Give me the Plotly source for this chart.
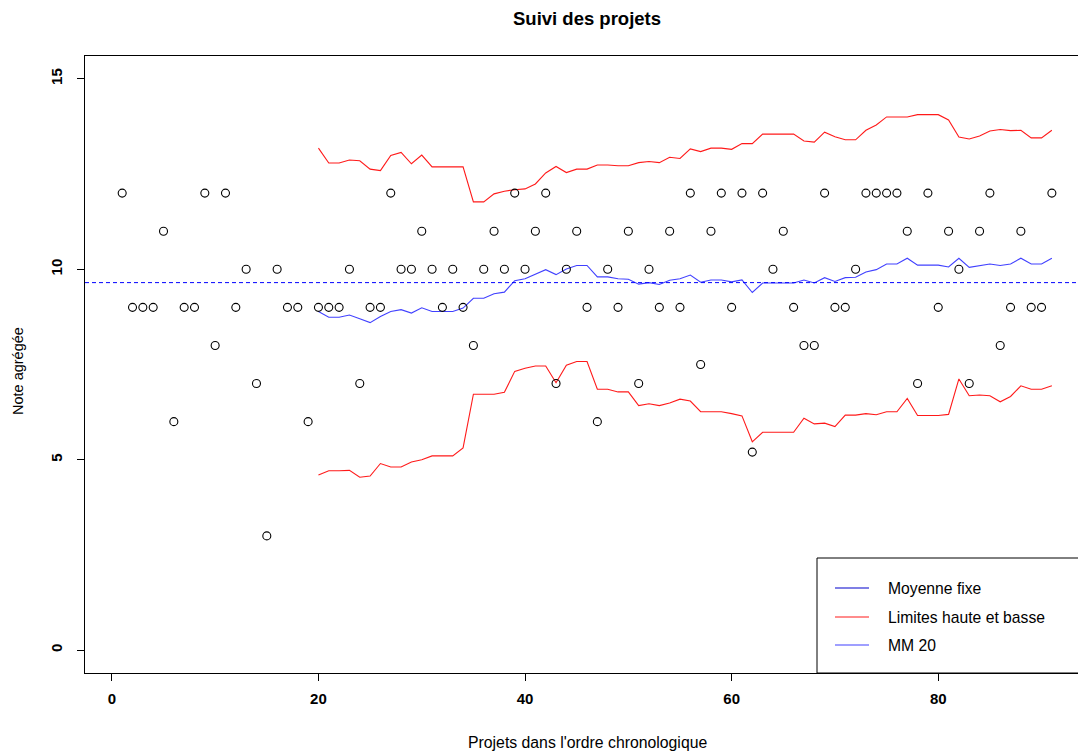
import plotly.graph_objects as go

# ---------------- data ----------------
projets = list(range(1, 92))
notes = [12, 9, 9, 9, 11, 6, 9, 9, 12, 8,
         12, 9, 10, 7, 3, 10, 9, 9, 6, 9,
         9, 9, 10, 7, 9, 9, 12, 10, 10, 11,
         10, 9, 10, 9, 8, 10, 11, 10, 12, 10,
         11, 12, 7, 10, 11, 9, 6, 10, 9, 11,
         7, 10, 9, 11, 9, 12, 7.5, 11, 12, 9,
         12, 5.2, 12, 10, 11, 9, 8, 8, 12, 9,
         9, 10, 12, 12, 12, 12, 11, 7, 12, 9,
         11, 10, 7, 11, 12, 8, 9, 11, 9, 9, 12]

x_mm = list(range(20, 92))
mm20 = [8.89, 8.74, 8.74, 8.80, 8.70, 8.60, 8.76, 8.89, 8.94, 8.85,
        8.99, 8.89, 8.89, 8.89, 8.98, 9.24, 9.24, 9.36, 9.40, 9.70,
        9.75, 9.86, 9.99, 9.86, 10.01, 10.10, 10.10, 9.80, 9.80, 9.75,
        9.74, 9.61, 9.65, 9.60, 9.71, 9.75, 9.85, 9.66, 9.72, 9.72,
        9.67, 9.72, 9.39, 9.64, 9.64, 9.64, 9.64, 9.72, 9.64, 9.78,
        9.68, 9.78, 9.79, 9.93, 9.99, 10.14, 10.14, 10.29, 10.11, 10.11,
        10.11, 10.06, 10.29, 10.05, 10.10, 10.14, 10.10, 10.14, 10.29, 10.14,
        10.14, 10.29]
limite_haute = [13.18, 12.79, 12.79, 12.87, 12.85, 12.63, 12.59, 12.99, 13.07, 12.77,
                13.00, 12.69, 12.69, 12.69, 12.69, 11.77, 11.77, 11.98, 12.05, 12.09,
                12.11, 12.24, 12.53, 12.70, 12.54, 12.63, 12.63, 12.74, 12.74, 12.72,
                12.72, 12.80, 12.83, 12.80, 12.94, 12.91, 13.16, 13.09, 13.18, 13.18,
                13.15, 13.30, 13.30, 13.55, 13.55, 13.55, 13.55, 13.37, 13.34, 13.60,
                13.48, 13.40, 13.40, 13.65, 13.79, 14.00, 14.00, 14.00, 14.06, 14.06,
                14.06, 13.92, 13.47, 13.42, 13.50, 13.63, 13.67, 13.64, 13.65, 13.45,
                13.45, 13.65]
limite_basse = [4.60, 4.71, 4.71, 4.72, 4.54, 4.57, 4.90, 4.81, 4.81, 4.94,
                5.00, 5.10, 5.10, 5.10, 5.31, 6.72, 6.72, 6.72, 6.77, 7.32,
                7.40, 7.46, 7.46, 7.02, 7.48, 7.58, 7.58, 6.85, 6.85, 6.78,
                6.78, 6.42, 6.47, 6.42, 6.49, 6.59, 6.54, 6.26, 6.26, 6.26,
                6.21, 6.15, 5.47, 5.72, 5.72, 5.72, 5.72, 6.09, 5.94, 5.96,
                5.87, 6.17, 6.17, 6.21, 6.18, 6.26, 6.26, 6.61, 6.16, 6.16,
                6.16, 6.19, 7.12, 6.68, 6.70, 6.68, 6.52, 6.66, 6.94, 6.85,
                6.85, 6.94]
moyenne_fixe = 9.65

x_ticks = [0, 20, 40, 60, 80]
y_ticks = [0, 5, 10, 15]
legend_labels = ["Moyenne fixe", "Limites haute et basse", "MM 20"]

# ---------------- styles / layout ----------------
W, H = 1078, 751
ML, MR, MT, MB = 85, 0, 56, 78
XR = [-2.6, 93.53]
YR = [-0.6, 15.6]
PW, PH = W - ML - MR, H - MT - MB

def px2x(px):
    return XR[0] + (px - ML) / PW * (XR[1] - XR[0])

def px2y(py):
    return YR[1] - (py - MT) / PH * (YR[1] - YR[0])

RED = "rgba(255,0,0,0.9)"
MMBLUE = "rgba(0,0,255,0.75)"
FIXBLUE = "#0000CC"
FONT = "Liberation Sans, Arial, sans-serif"

fig = go.Figure()

fig.add_trace(go.Scatter(x=x_mm, y=limite_haute, mode="lines",
                         line=dict(color=RED, width=1.1), showlegend=False))
fig.add_trace(go.Scatter(x=x_mm, y=limite_basse, mode="lines",
                         line=dict(color=RED, width=1.1), showlegend=False))
fig.add_trace(go.Scatter(x=x_mm, y=mm20, mode="lines",
                         line=dict(color=MMBLUE, width=1.1), showlegend=False))
fig.add_trace(go.Scatter(x=projets, y=notes, mode="markers",
                         marker=dict(symbol="circle-open", size=8,
                                     color="black", line=dict(width=1.1, color="black")),
                         showlegend=False))

shapes = []
# fixed mean dashed line
shapes.append(dict(type="line", xref="paper", x0=0, x1=1, yref="y",
                   y0=moyenne_fixe, y1=moyenne_fixe,
                   line=dict(color="blue", width=1, dash="4px,3px")))
# legend box
shapes.append(dict(type="rect", xref="x", yref="y",
                   x0=px2x(817), x1=px2x(1100), y0=YR[0], y1=px2y(558),
                   line=dict(color="black", width=1), fillcolor="white", layer="above"))
leg_colors = [FIXBLUE, RED, MMBLUE]
leg_rows = [588, 617, 645]
annotations = []
for lab, col, py in zip(legend_labels, leg_colors, leg_rows):
    shapes.append(dict(type="line", xref="x", yref="y",
                       x0=px2x(835), x1=px2x(869), y0=px2y(py), y1=px2y(py),
                       line=dict(color=col, width=1.2), layer="above"))
    annotations.append(dict(x=px2x(886), y=px2y(py), xref="x", yref="y",
                            text=lab, showarrow=False, xanchor="left", yanchor="middle",
                            font=dict(family=FONT, size=15.7, color="black")))

# title and axis titles
annotations.append(dict(x=px2x(587), y=1, xref="x", yref="paper", yshift=38,
                        text="<b>Suivi des projets</b>", showarrow=False,
                        xanchor="center", yanchor="middle",
                        font=dict(family=FONT, size=18.5, color="black")))
annotations.append(dict(x=px2x(587), y=0, xref="x", yref="paper", yshift=-(742 - (H - MB)),
                        text="Projets dans l'ordre chronologique", showarrow=False,
                        xanchor="center", yanchor="middle",
                        font=dict(family=FONT, size=15.8, color="black")))
annotations.append(dict(x=0, y=px2y(371), xref="paper", yref="y", xshift=-(ML - 18),
                        text="Note agrégée", showarrow=False, textangle=-90,
                        xanchor="center", yanchor="middle",
                        font=dict(family=FONT, size=14.5, color="black")))

fig.update_layout(
    width=W, height=H,
    margin=dict(l=ML, r=MR, t=MT, b=MB, pad=0),
    paper_bgcolor="white", plot_bgcolor="white",
    shapes=shapes, annotations=annotations,
    showlegend=False,
    xaxis=dict(range=XR, tickvals=x_ticks, ticktext=[f"<b>{v}</b>" for v in x_ticks],
               ticks="outside", ticklen=7, tickwidth=1, tickcolor="black",
               showline=True, linecolor="black", linewidth=1.2, mirror=True,
               showgrid=False, zeroline=False, ticklabelstandoff=5,
               tickfont=dict(family=FONT, size=15, color="black")),
    yaxis=dict(range=YR, tickvals=y_ticks, ticktext=[f"<b>{v}</b>" for v in y_ticks],
               ticks="outside", ticklen=7, tickwidth=1, tickcolor="black",
               showline=True, linecolor="black", linewidth=1.2, mirror=False,
               showgrid=False, zeroline=False, tickangle=-90, ticklabelstandoff=9,
               tickfont=dict(family=FONT, size=15, color="black")),
)

fig.write_html("out.html")
